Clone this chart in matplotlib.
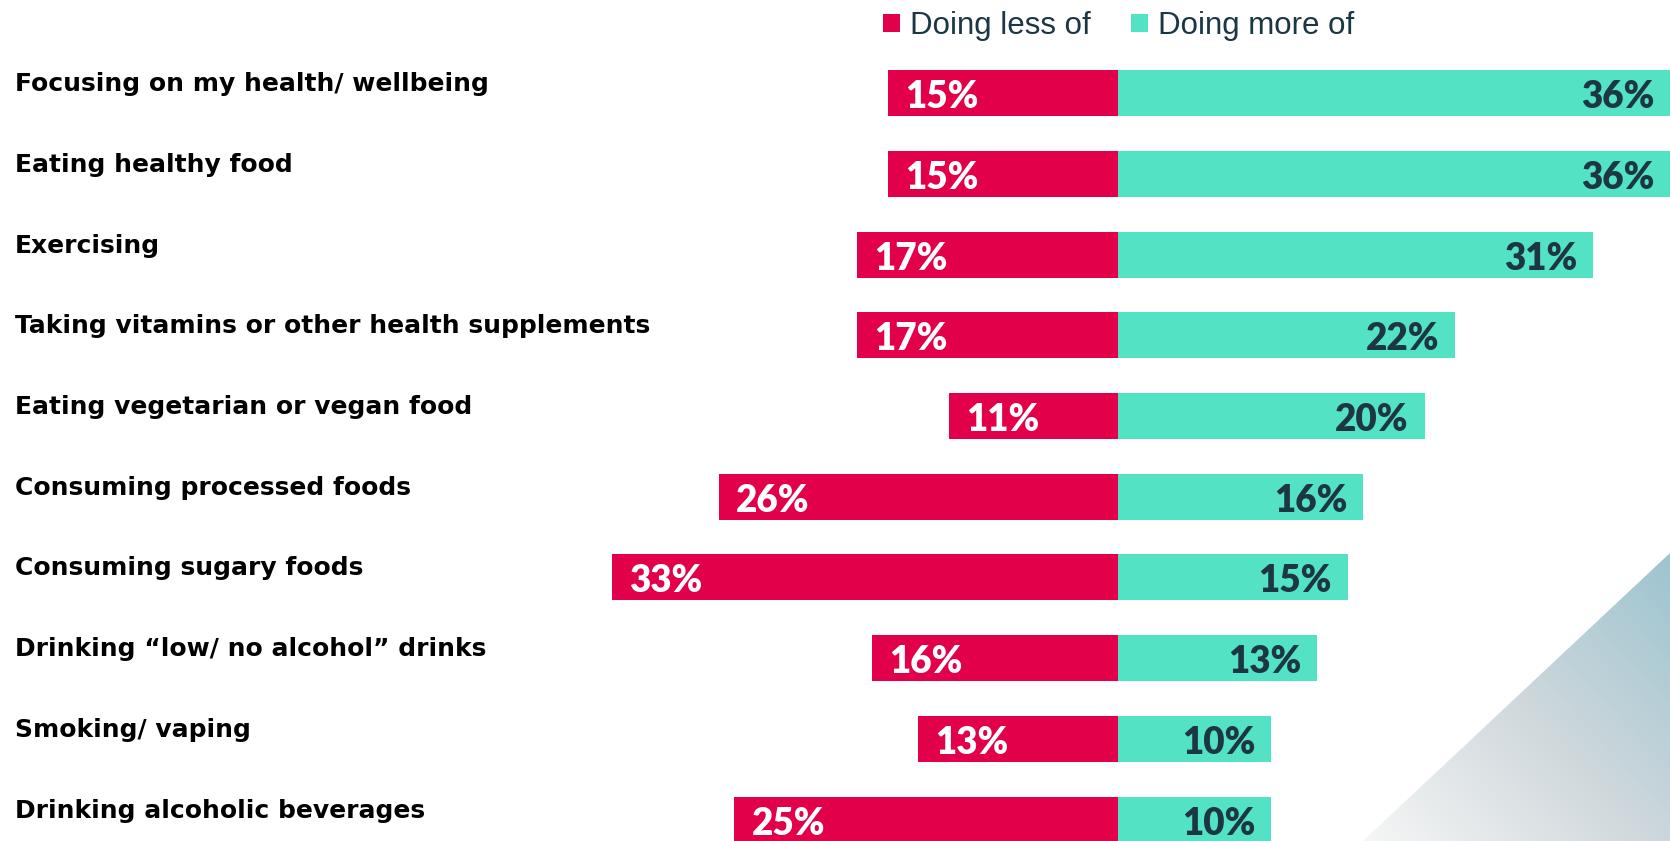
import numpy as np
import matplotlib
matplotlib.use("Agg")
import matplotlib.pyplot as plt
from matplotlib.patches import Polygon, Patch
from matplotlib.colors import LinearSegmentedColormap

categories = [
    "Focusing on my health/ wellbeing",
    "Eating healthy food",
    "Exercising",
    "Taking vitamins or other health supplements",
    "Eating vegetarian or vegan food",
    "Consuming processed foods",
    "Consuming sugary foods",
    "Drinking \u201clow/ no alcohol\u201d drinks",
    "Smoking/ vaping",
    "Drinking alcoholic beverages",
]
doing_less = [15, 15, 17, 17, 11, 26, 33, 16, 13, 25]
doing_more = [36, 36, 31, 22, 20, 16, 15, 13, 10, 10]
series_names = ["Doing less of", "Doing more of"]

RED = "#E3004A"
TEAL = "#54E2C4"
DARK = "#1C3644"

W, H = 1670, 841
fig = plt.figure(figsize=(W / 100, H / 100), dpi=100)

# decorative gradient triangle in the lower right corner
bg = fig.add_axes([0, 0, 1, 1], zorder=0)
bg.set_xlim(0, W)
bg.set_ylim(H, 0)
bg.axis("off")
p0 = np.array([1363.0, 841.0])
p1 = np.array([1670.0, 553.0])
xx, yy = np.meshgrid(np.arange(1300, W + 1), np.arange(540, H + 1))
d = p1 - p0
t = ((xx - p0[0]) * d[0] + (yy - p0[1]) * d[1]) / (d @ d)
cmap = LinearSegmentedColormap.from_list("tri", ["#f6f6f6", "#cfd8dc", "#9dc4d0"])
img = bg.imshow(np.clip(t, 0, 1), cmap=cmap, vmin=0, vmax=1,
                extent=(1300, W + 1, H + 1, 540), origin="upper",
                interpolation="bilinear")
tri = Polygon([[1363, 841], [1670, 553], [1670, 841]], closed=True,
              transform=bg.transData, facecolor="none", edgecolor="none")
bg.add_patch(tri)
img.set_clip_path(tri)

# main diverging bar chart
ax = fig.add_axes([0, 0, 1, 1], zorder=1)
ax.patch.set_alpha(0)
ax.set_xlim(-72.88, 36.0)
pitch = 80.7
ax.set_ylim((H - 93.2) / pitch, -93.2 / pitch)
ax.axis("off")

y = np.arange(len(categories))
bh = 46 / pitch
ax.barh(y, -np.array(doing_less), height=bh, color=RED, linewidth=0)
ax.barh(y, doing_more, height=bh, color=TEAL, linewidth=0)

num_font = dict(family="Lato", weight="heavy", fontsize=26.5)
for yi, lv, mv in zip(y, doing_less, doing_more):
    ax.annotate(f"{lv}%", xy=(-lv, yi), xytext=(17, -4), textcoords="offset pixels",
                ha="left", va="center", color="white", **num_font)
    ax.annotate(f"{mv}%", xy=(mv, yi), xytext=(-16, -4), textcoords="offset pixels",
                ha="right", va="center", color=DARK, **num_font)

for yi, name in zip(y, categories):
    ax.annotate(name, xy=(0, yi), xycoords=("axes fraction", "data"),
                xytext=(15, 9), textcoords="offset pixels",
                ha="left", va="center", color="black",
                family="DejaVu Sans", weight="bold", fontsize=18)

handles = [Patch(facecolor=RED, edgecolor="none"), Patch(facecolor=TEAL, edgecolor="none")]
leg = fig.legend(handles, series_names, loc="center left",
                 bbox_to_anchor=(883 / W, 1 - 26 / H), ncol=2, frameon=False,
                 handlelength=0.55, handleheight=0.55, handletextpad=0.3,
                 columnspacing=1.3, borderaxespad=0, borderpad=0,
                 prop=dict(family="Liberation Sans", size=22.5))
for txt in leg.get_texts():
    txt.set_color(DARK)

fig.savefig("out.png", dpi=100, facecolor="white")
